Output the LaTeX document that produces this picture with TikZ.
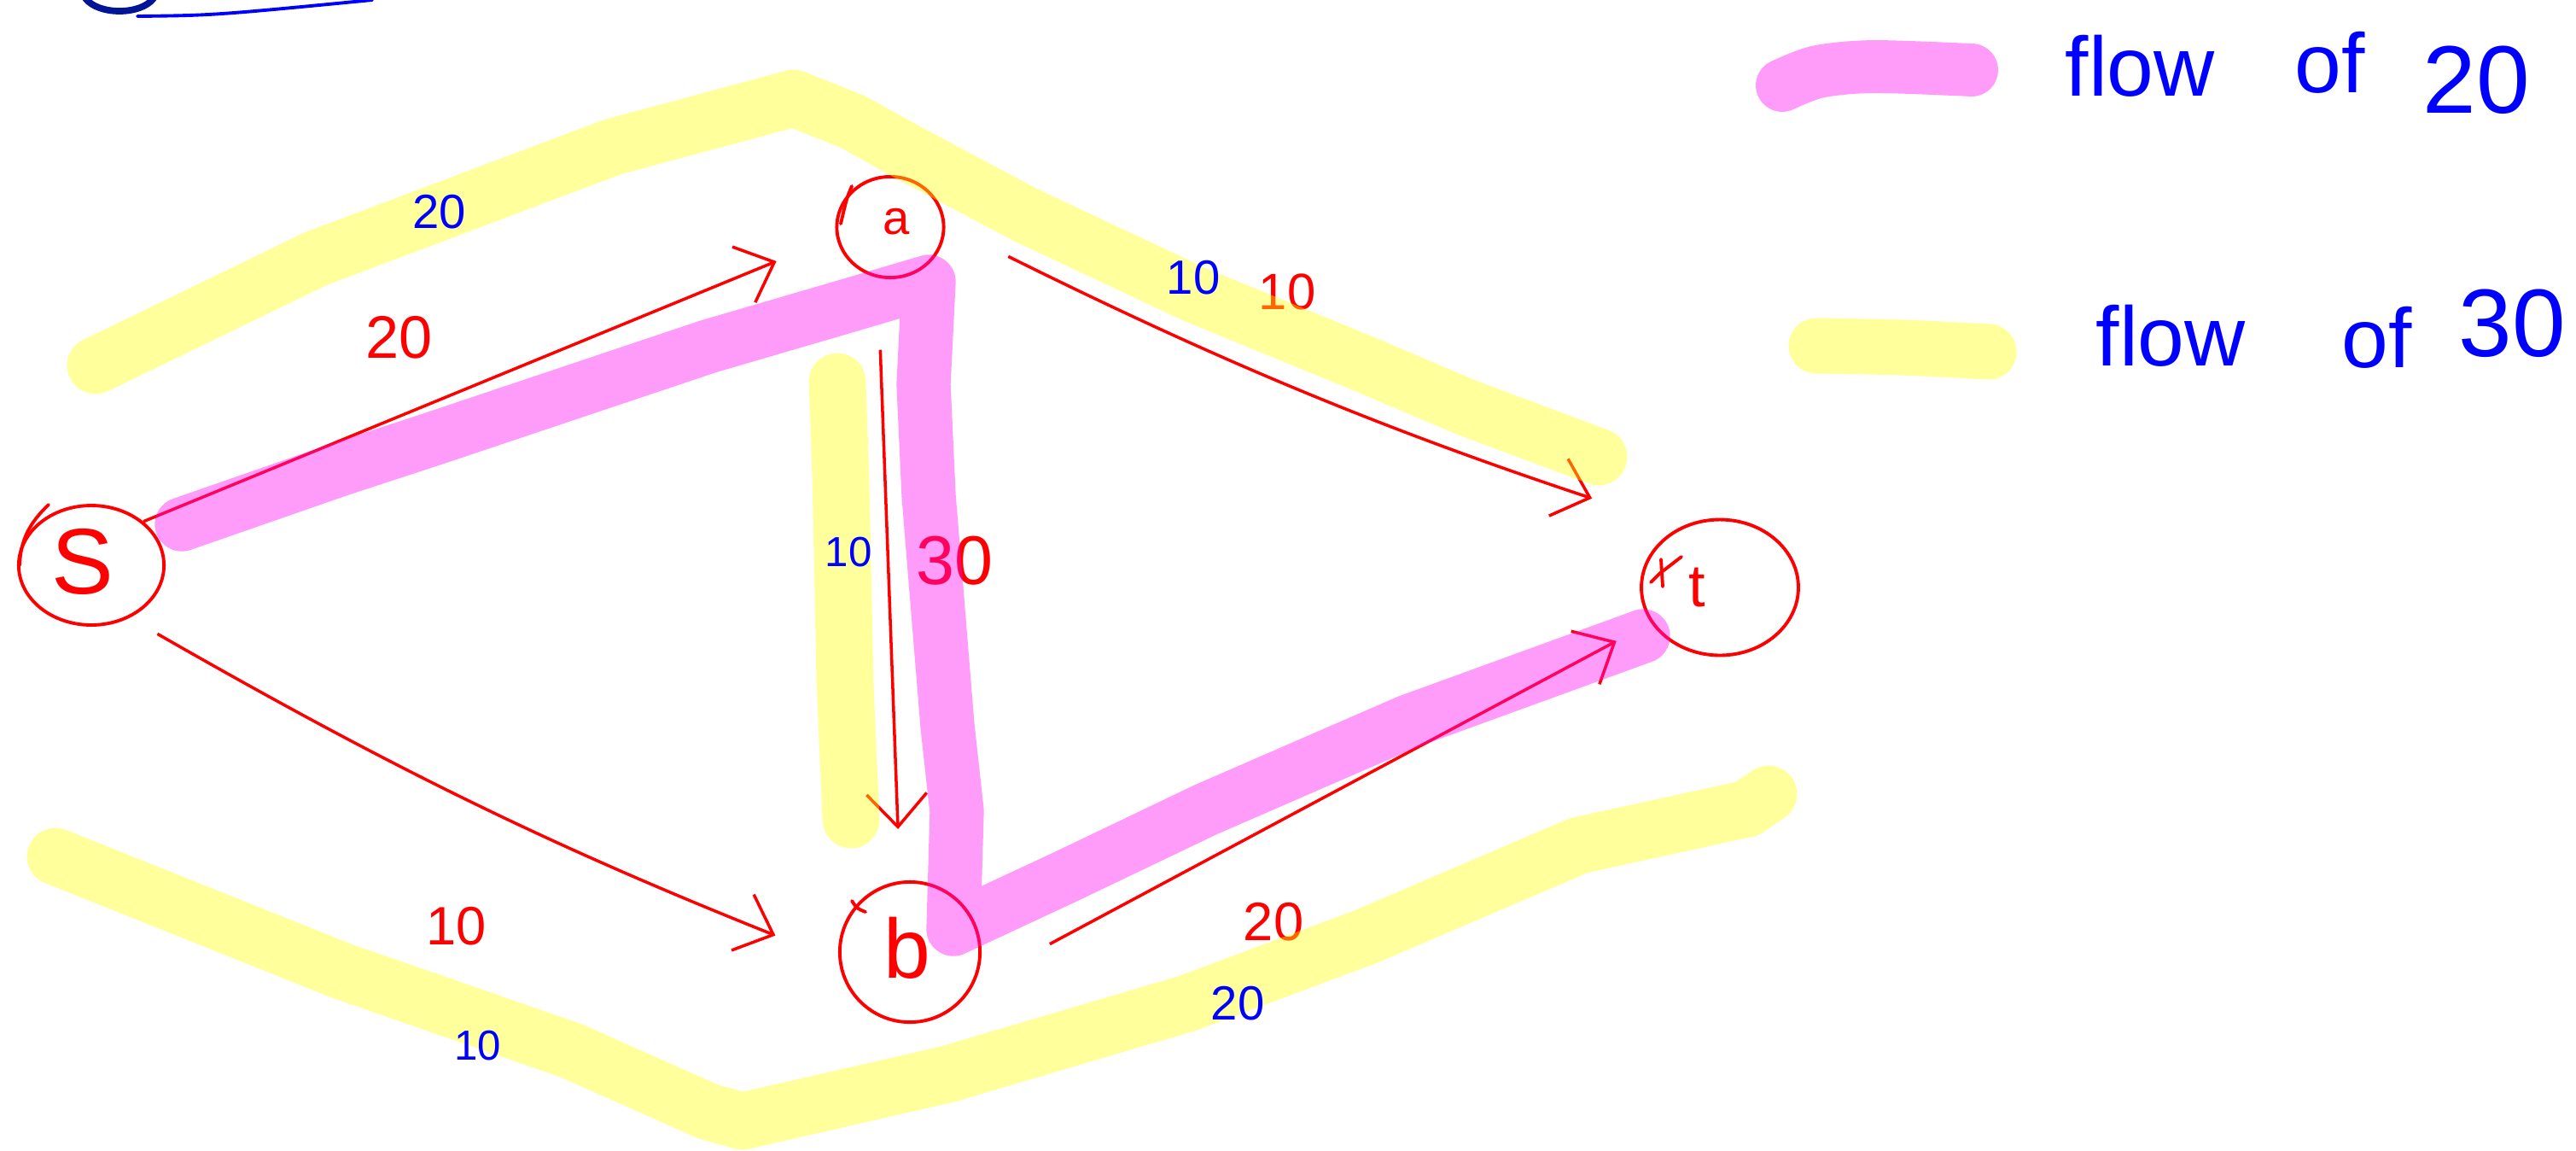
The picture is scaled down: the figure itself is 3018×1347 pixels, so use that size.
\documentclass[tikz,border=0pt]{standalone}
\usepackage{fontspec}
\setmainfont{Liberation Sans}
\usetikzlibrary{shapes.geometric,arrows.meta}
\definecolor{inkred}{RGB}{255,0,0}
\definecolor{inkblue}{RGB}{0,0,255}
\definecolor{navyink}{RGB}{0,20,150}
\definecolor{hlpink}{RGB}{255,5,242}
\definecolor{hlyellow}{RGB}{255,255,5}
\tikzset{
  vertex/.style={draw=inkred, line width=1.1pt, ellipse, inner sep=0pt},
  letter/.style={text=inkred, inner sep=0pt},
  flowedge/.style={draw=inkred, line width=1pt, -{Straight Barb[length=11pt,width=20pt]}},
  redstroke/.style={draw=inkred, line width=1.1pt, line cap=round},
  caplbl/.style={text=inkred, inner sep=0pt},
  flowlbl/.style={text=inkblue, inner sep=0pt, font=\fontsize{16}{16}\selectfont},
  hlp/.style={draw=hlpink, draw opacity=0.4, line width=18pt, line cap=round, line join=round},
  hly/.style={draw=hlyellow, draw opacity=0.4, line width=19pt, line cap=round, line join=round},
  legendtxt/.style={text=inkblue, inner sep=0pt, font=\fontsize{28}{28}\selectfont},
  legendnum/.style={text=inkblue, inner sep=0pt, font=\fontsize{32}{32}\selectfont},
}
\begin{document}
\begin{tikzpicture}[x=0.01cm,y=-0.01cm]
\useasboundingbox (0,0) rectangle (3018,1347);
\fill[white] (0,0) rectangle (3018,1347);

% vertices
\node[vertex, minimum width=48.4pt, minimum height=39.8pt] (s) at (107,662) {};
\node[vertex, minimum width=35.6pt, minimum height=33.6pt] (a) at (1043,266) {};
\node[vertex, minimum width=46.7pt, minimum height=46.7pt] (b) at (1066,1115) {};
\node[vertex, minimum width=52.3pt, minimum height=45.2pt] (t) at (2015,688) {};
\node[letter, font=\fontsize{31}{31}\selectfont] (sL) at (97,658) {S};
\node[letter, font=\fontsize{16}{16}\selectfont] (aL) at (1050,260) {a};
\node[letter, font=\fontsize{28}{28}\selectfont] (bL) at (1063,1110) {b};
\node[letter, font=\fontsize{20}{20}\selectfont] (tL) at (1988,688) {t};

% extra hand strokes on the circles
\draw[redstroke] (57,591) .. controls (35,612) and (24,632) .. (23,662);
\draw[redstroke] (998,218) .. controls (992,232) .. (985,262);
\draw[redstroke] (998,1055) .. controls (1004,1064) .. (1014,1068);
\draw[redstroke] (1970,652) -- (1944,672) -- (1934,682);
\draw[redstroke] (1946,655) -- (1948,687);

% capacity edges
\draw[flowedge, shorten >=21.5pt] (s.40) -- (a.190);
\draw[flowedge, shorten <=10.7pt, shorten >=22.7pt] (s.-54) to[bend right=4] (b.187);
\draw[flowedge, shorten <=24pt, shorten >=17.3pt] (a.-104) -- (b.98);
\draw[flowedge, shorten <=23.4pt, shorten >=30.7pt] (a.2) to[bend right=4] (t.124);
\draw[flowedge, shorten <=28.7pt, shorten >=13pt] (b.-27) -- (t.207);

% capacities (red)
\node[caplbl, font=\fontsize{20}{20}\selectfont] (csa) at (468,395) {20};
\node[caplbl, font=\fontsize{17}{17}\selectfont] (cat) at (1508,342) {10};
\node[caplbl, font=\fontsize{23}{23}\selectfont] (cab) at (1118,657) {30};
\node[caplbl, font=\fontsize{18}{18}\selectfont] (csb) at (535,1085) {10};
\node[caplbl, font=\fontsize{18}{18}\selectfont] (cbt) at (1492,1080) {20};

% highlighter strokes
\draw[hlp] (213,614) -- (400,549) -- (510,513) -- (829,406) -- (1000,356) -- (1088,330)
  -- (1082,450) -- (1088,580) -- (1110,850) -- (1121,950) -- (1117,1088)
  -- (1250,1026) -- (1413,948) -- (1650,845) -- (1925,745);
\draw[hly] (112,428) -- (370,303) -- (718,172) -- (930,115) -- (1000,143) -- (1063,178)
  -- (1200,251) -- (1400,345) -- (1600,427) -- (1720,478) -- (1873,535);
\draw[hly] (981,447) -- (985,560) -- (990,800) -- (997,960);
\draw[hly] (65,1003) -- (400,1137) -- (668,1230) -- (830,1302) -- (870,1313)
  -- (1110,1258) -- (1391,1175) -- (1600,1097) -- (1850,990) -- (2047,947) -- (2072,930);
% legend strokes
\draw[hlp, line width=17.6pt] plot[smooth, tension=0.5] coordinates {(2088,100) (2130,84) (2195,78) (2310,82)};
\draw[hly, line width=18.5pt] plot[smooth, tension=0.5] coordinates {(2128,405) (2230,407) (2330,412)};

% flows (blue)
\node[flowlbl] (fsa) at (515,248) {20};
\node[flowlbl] (fat) at (1398,325) {10};
\node[flowlbl, font=\fontsize{14}{14}\selectfont] (fab) at (994,647) {10};
\node[flowlbl, font=\fontsize{14}{14}\selectfont] (fsb) at (560,1225) {10};
\node[flowlbl] (fbt) at (1450,1175) {20};

% legend text
\node[legendtxt, anchor=base west] (l1a) at (2419,112) {flow};
\node[legendtxt, anchor=base west] (l1b) at (2688,108) {of};
\node[legendnum, anchor=base west] (l1c) at (2838,132) {20};
\node[legendtxt, anchor=base west] (l2a) at (2455,428) {flow};
\node[legendtxt, anchor=base west] (l2b) at (2743,430) {of};
\node[legendnum, anchor=base west] (l2c) at (2880,417) {30};

% cut-off heading strokes at the top
\draw[navyink, line width=2.2pt, line cap=round] (100,-2) .. controls (115,18) and (165,18) .. (180,-2);
\draw[inkblue, line width=1.1pt, line cap=round] (161,19) .. controls (250,18) .. (436,0);
\end{tikzpicture}
\end{document}
